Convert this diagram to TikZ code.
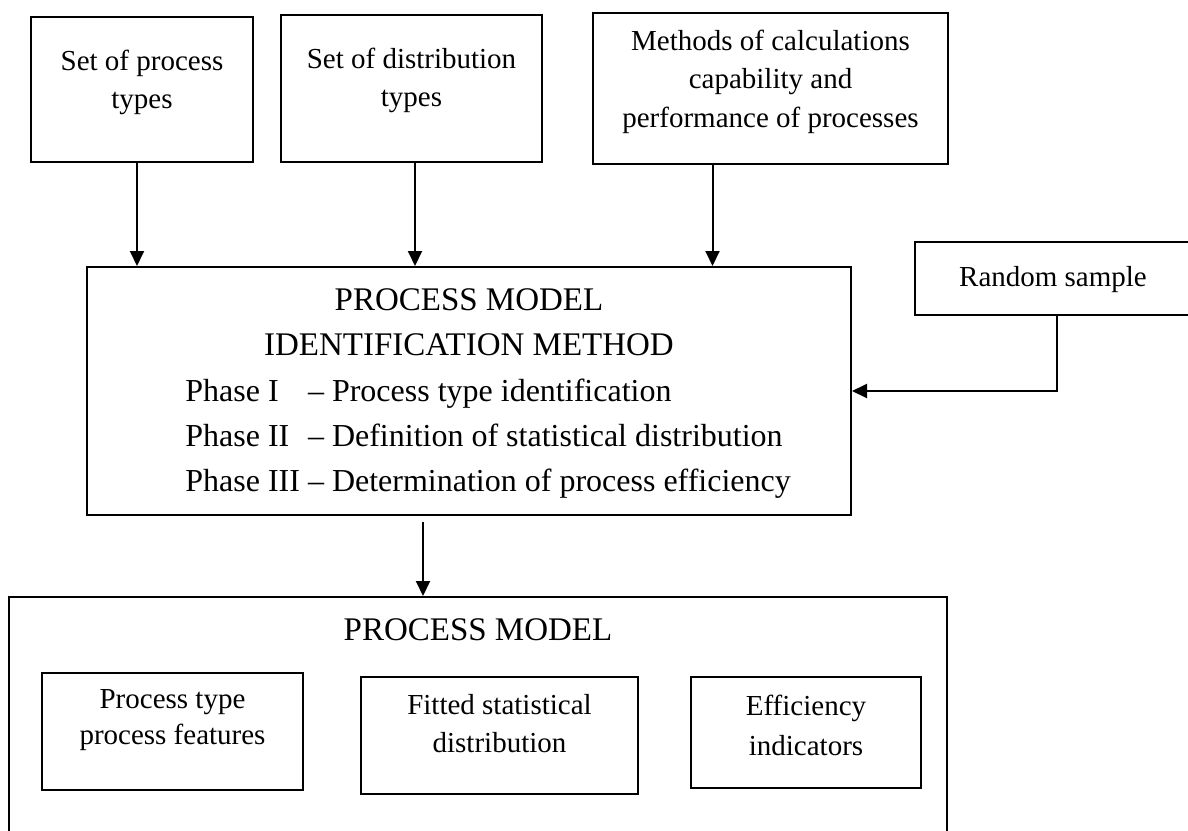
\documentclass[tikz,border=0pt]{standalone}
\usepackage{fontspec}
\setmainfont{Liberation Serif}
\usetikzlibrary{arrows.meta}

\begin{document}
\begin{tikzpicture}[x=0.5pt, y=-0.5pt,
    box/.style={draw, line width=1pt, inner sep=0pt},
    txt/.style={align=center, inner sep=0pt, font=\fontsize{14.5}{19.25}\selectfont},
    arrow/.style={line width=1pt, -{Triangle[length=7.5pt, width=7pt]}}]
    \useasboundingbox (0,0) rectangle (1188,830);
    \clip (0,0) rectangle (1188,830);

    % input boxes
    \node[box, minimum width=111pt, minimum height=72.5pt] (ptypes) at (142, 89.5) {};
    \node[txt] (ptypes-t) at (142, 82.5) {Set of process\\types};
    \node[box, minimum width=130.5pt, minimum height=73.5pt] (dtypes) at (411.5, 88.5) {};
    \node[txt] (dtypes-t) at (411.5, 80.5) {Set of distribution\\types};
    \node[box, minimum width=177.5pt, minimum height=75.5pt] (methods) at (770.5, 88.5) {};
    \node[txt] (methods-t) at (770.5, 81.5) {Methods of calculations\\capability and\\performance of processes};

    % identification method
    \node[box, minimum width=382pt, minimum height=124pt] (ident) at (469, 391) {};
    \node[txt, font=\fontsize{16.5}{22.5}\selectfont] (ident-t) at (469, 322.5)
        {PROCESS MODEL\\IDENTIFICATION METHOD};
    \node[txt, anchor=west, font=\fontsize{16}{22.5}\selectfont] (phases) at (185, 437) {%
        \begin{tabular}{@{}l@{ }l@{}}
        Phase I   & -- Process type identification\\
        Phase II  & -- Definition of statistical distribution\\
        Phase III & -- Determination of process efficiency
        \end{tabular}};

    \node[box, minimum width=138pt, minimum height=36.5pt] (sample) at (1053, 278.5) {};
    \node[txt] (sample-t) at (1053, 280) {Random sample};

    % process model
    \node[box, minimum width=469pt, minimum height=131.5pt] (model) at (478, 728.5) {};
    \node[txt, font=\fontsize{16.5}{22.5}\selectfont] (model-t) at (478, 630) {PROCESS MODEL};
    \node[box, minimum width=130.5pt, minimum height=58.5pt] (feat) at (172.5, 731.5) {};
    \node[txt, font=\fontsize{14.5}{18}\selectfont] (feat-t) at (172.5, 720) {Process type\\process features};
    \node[box, minimum width=138.5pt, minimum height=58.5pt] (fitted) at (499.5, 735.5) {};
    \node[txt, font=\fontsize{14.5}{19}\selectfont] (fitted-t) at (499.5, 724) {Fitted statistical\\distribution};
    \node[box, minimum width=115pt, minimum height=55.5pt] (effic) at (806, 732.5) {};
    \node[txt, font=\fontsize{14.5}{20}\selectfont] (effic-t) at (806, 725) {Efficiency\\indicators};

    % connectors
    \draw[arrow] ([xshift=-2.5pt]ptypes.south) -- ([xshift=-2.5pt]ptypes.south |- ident.north);
    \draw[arrow] ([xshift=1.75pt]dtypes.south) -- ([xshift=1.75pt]dtypes.south |- ident.north);
    \draw[arrow] ([xshift=-29pt]methods.south) -- ([xshift=-29pt]methods.south |- ident.north);
    \draw[arrow] ([xshift=2pt]sample.south) |- (ident.east);
    \draw[arrow, shorten <=3pt] ([xshift=-23pt]ident.south) -- ([xshift=-23pt]ident.south |- model.north);

\end{tikzpicture}
\end{document}
